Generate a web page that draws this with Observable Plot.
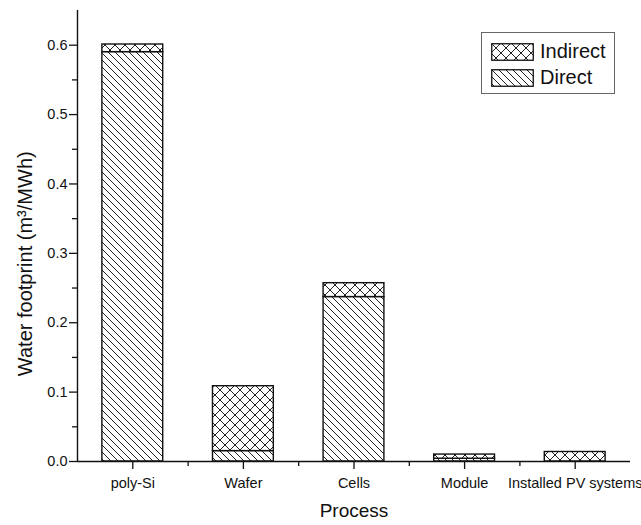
<!DOCTYPE html>
<html>
<head>
<meta charset="utf-8">
<script src="https://cdn.jsdelivr.net/npm/d3@7"></script>
<script src="https://cdn.jsdelivr.net/npm/@observablehq/plot@0.6"></script>
<style>
  body { margin: 0; background: #fff; }
  #wrap { position: relative; width: 641px; height: 525px; font-family: "Liberation Sans", Arial, sans-serif; }
  #legend { position: absolute; left: 481px; top: 32px; width: 132px; height: 60px; border: 1px solid #666; background: #fff; }
  .row { position: absolute; left: 9px; display: flex; align-items: center; font-size: 20px; color: #111; }
  .row svg { margin-right: 6px; }
</style>
</head>
<body>
<div id="wrap"></div>
<script>
// ---- data ----
const processes = ["poly-Si", "Wafer", "Cells", "Module", "Installed PV systems"];
const direct   = [0.590, 0.015, 0.237, 0.004, 0.000];
const indirect = [0.011, 0.0935, 0.020, 0.006, 0.0137];
const yTicks = [0, 0.1, 0.2, 0.3, 0.4, 0.5, 0.6];
const yMinor = [0.05, 0.15, 0.25, 0.35, 0.45, 0.55];
const seriesNames = ["Indirect", "Direct"];

const rows = processes.map((p, i) => ({i, process: p, direct: direct[i], indirect: indirect[i]}));
const half = 0.275; // bar half-width (fraction of category step)

const stroke = "#111";
const plot = Plot.plot({
  width: 641,
  height: 525,
  marginLeft: 77,
  marginRight: 11,
  marginTop: 10,
  marginBottom: 64,
  style: {fontFamily: '"Liberation Sans", Arial, sans-serif', fontSize: "14.5px", color: "#111", background: "#fff", overflow: "visible"},
  x: {domain: [0, processes.length]},
  y: {domain: [0, 0.65]},
  marks: [
    Plot.rectY(rows, {x1: d => d.i + 0.5 - half, x2: d => d.i + 0.5 + half, y1: 0, y2: d => d.direct,
      fill: "url(#hatchDirect)", stroke, strokeWidth: 1.4}),
    Plot.rectY(rows, {x1: d => d.i + 0.5 - half, x2: d => d.i + 0.5 + half, y1: d => d.direct, y2: d => d.direct + d.indirect,
      fill: "url(#hatchIndirect)", stroke, strokeWidth: 1.4}),
    Plot.ruleX([0], {stroke, strokeWidth: 1.4}),
    Plot.ruleY([0], {stroke, strokeWidth: 1.4}),
    Plot.axisY({ticks: yTicks, tickSize: 8, tickPadding: 2, tickFormat: d3.format(".1f"), label: null, strokeWidth: 1.3, stroke, fontSize: 14.5}),
    Plot.axisY({ticks: yMinor, tickSize: 5, tickFormat: () => "", label: null, strokeWidth: 1.3, stroke}),
    Plot.axisX({ticks: processes.map((p, i) => i + 0.5), tickSize: 8, tickPadding: 8, tickFormat: v => processes[Math.round(v - 0.5)], label: null, strokeWidth: 1.3, stroke, fontSize: 14.5}),
    Plot.axisX({ticks: d3.range(1, processes.length), tickSize: 5, tickFormat: () => "", label: null, strokeWidth: 1.3, stroke}),
    Plot.text(["Process"], {frameAnchor: "bottom", dy: 49, text: d => d, fontSize: 19, lineAnchor: "middle", textAnchor: "middle"}),
    Plot.text([0.285], {y: d => d, frameAnchor: "left", dx: -52, rotate: -90, textAnchor: "middle", lineAnchor: "middle",
      text: () => "Water footprint (m\u00B3/MWh)", fontSize: 20})
  ]
});

function addPatterns(svg, prefix) {
  const defs = d3.select(svg).insert("defs", ":first-child");
  const pd = defs.append("pattern").attr("id", prefix + "Direct").attr("patternUnits", "userSpaceOnUse").attr("width", 7).attr("height", 7);
  pd.append("rect").attr("width", 7).attr("height", 7).attr("fill", "#fff");
  pd.append("path").attr("d", "M0,0L7,7M-1,6L1,8M6,-1L8,1").attr("stroke", "#222").attr("stroke-width", 1).attr("fill", "none");
  const pi = defs.append("pattern").attr("id", prefix + "Indirect").attr("patternUnits", "userSpaceOnUse").attr("width", 10).attr("height", 10);
  pi.append("rect").attr("width", 10).attr("height", 10).attr("fill", "#fff");
  pi.append("path").attr("d", "M0,0L10,10M10,0L0,10").attr("stroke", "#222").attr("stroke-width", 1).attr("fill", "none");
}
addPatterns(plot, "hatch");

const wrap = document.getElementById("wrap");
wrap.appendChild(plot);

// legend
const legend = document.createElement("div");
legend.id = "legend";
wrap.appendChild(legend);
seriesNames.forEach((name, k) => {
  const row = document.createElement("div");
  row.className = "row";
  row.style.top = (k === 0 ? 7 : 33) + "px";
  const sw = d3.create("svg").attr("width", 43).attr("height", 18);
  sw.append("rect").attr("x", 0.75).attr("y", 0.75).attr("width", 41.5).attr("height", 16.5)
    .attr("fill", name === "Direct" ? "url(#hatchDirect)" : "url(#hatchIndirect)")
    .attr("stroke", stroke).attr("stroke-width", 1.3);
  row.appendChild(sw.node());
  const t = document.createElement("span");
  t.textContent = name;
  row.appendChild(t);
  legend.appendChild(row);
});
</script>
</body>
</html>
